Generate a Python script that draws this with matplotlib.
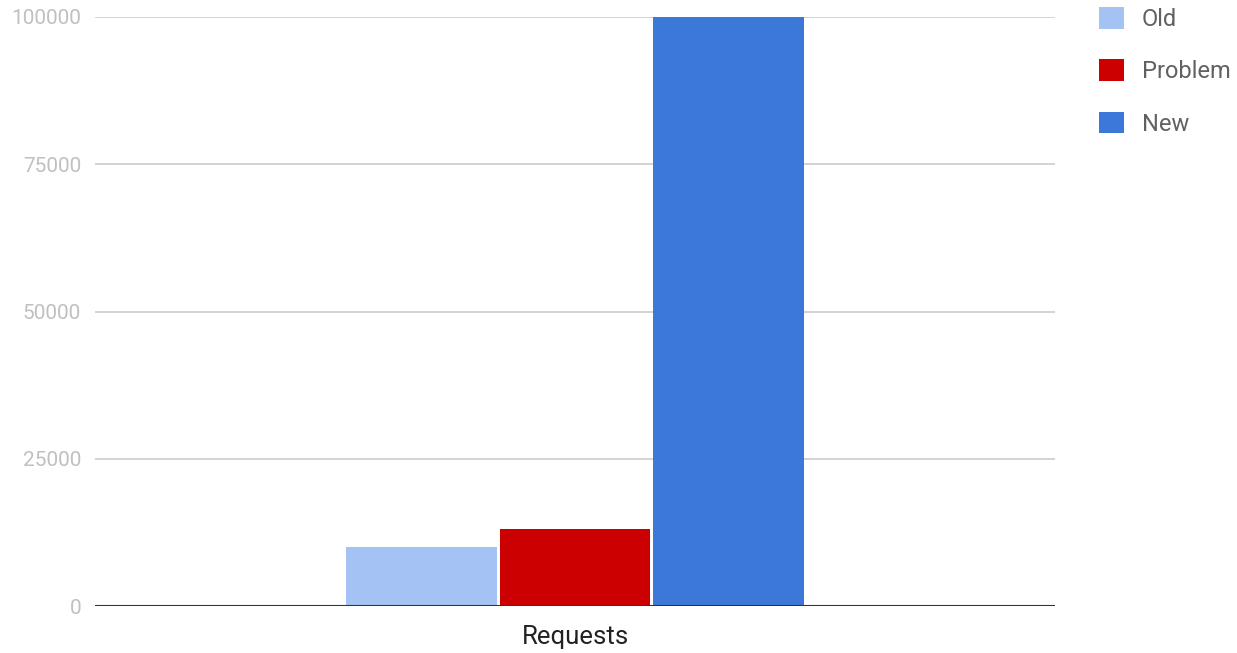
import matplotlib
import matplotlib.pyplot as plt
from matplotlib.patches import Patch

matplotlib.use("Agg")

category = ["Requests"]
series = ["Old", "Problem", "New"]
values = [10000, 13000, 100000]
colors = ["#a4c2f4", "#cc0000", "#3c78d8"]
yticks = [0, 25000, 50000, 75000, 100000]

plt.rcParams["font.family"] = ["Roboto", "DejaVu Sans"]

fig = plt.figure(figsize=(12.37, 6.53), dpi=100)
ax = fig.add_axes([95 / 1237, 1 - 606 / 653, 960 / 1237, 589 / 653])

width = 0.157
gap = 0.0032
for i, (name, v, c) in enumerate(zip(series, values, colors)):
    offset = (i - 1) * (width + gap)
    ax.bar(offset, v, width=width, color=c, label=name, zorder=3)

ax.set_xlim(-0.5, 0.5)
ax.set_ylim(0, 100000)
ax.set_yticks(yticks)
ax.set_yticklabels([str(t) for t in yticks])
ax.set_xticks([0])
ax.set_xticklabels(category)

ax.grid(axis="y", color="#cccccc", linewidth=1.2, zorder=0)
ax.axhline(0, color="#333333", linewidth=1.5, zorder=4)
for s in ax.spines.values():
    s.set_visible(False)
ax.tick_params(axis="y", length=0, pad=10, labelsize=15, labelcolor="#c0c0c0")
ax.tick_params(axis="x", length=0, pad=14, labelsize=18.5, labelcolor="#222222")

handles = [Patch(facecolor=c, edgecolor="none", label=n) for n, c in zip(series, colors)]
fig.legend(handles=handles, loc="upper left", bbox_to_anchor=(1078 / 1237, 1.022),
           frameon=False, fontsize=17, labelcolor="#616161",
           handlelength=1.05, handleheight=1.05, handletextpad=0.75, labelspacing=1.2)

fig.savefig("out.png", dpi=100, facecolor="white")
